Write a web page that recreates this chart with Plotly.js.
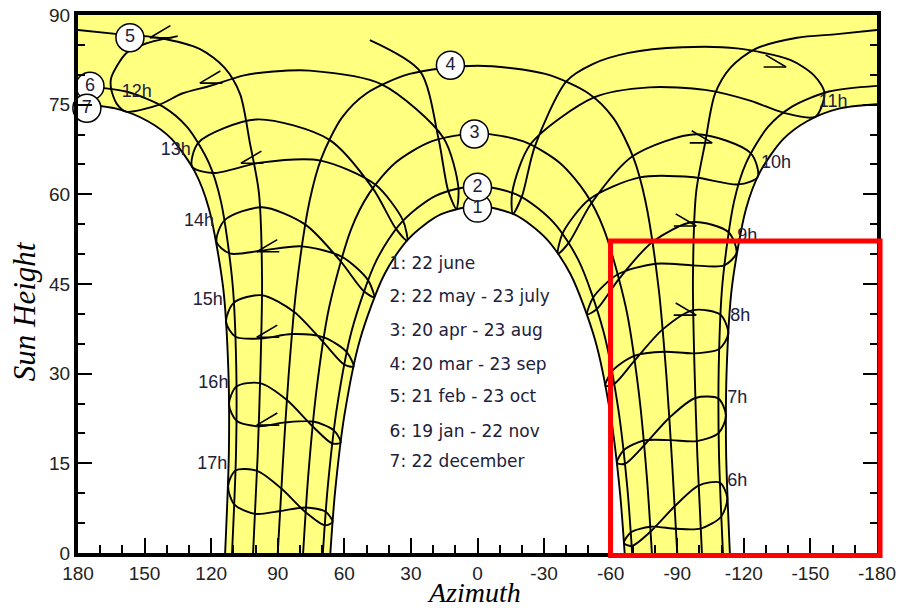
<!DOCTYPE html>
<html><head><meta charset="utf-8">
<script src="https://cdn.plot.ly/plotly-3.0.1.min.js"></script>
<style>html,body{margin:0;padding:0;background:#fff}#chart{width:900px;height:608px}</style>
</head><body><div id="chart"></div>
<script>
// ===== Sun paths (date curves): azimuth (deg), sun height (deg) =====
const path1Az = [-66.30,-64.19,-59.87,-52.98,-41.92,-31.07,-16.83,0,16.83,31.07,41.92,52.98,59.87,64.19,66.30];
const path1H  = [0,10.14,23.26,35.65,46.64,52.55,56.59,58.06,56.59,52.55,46.64,35.65,23.26,10.14,0];
const path2Az = [-69.67,-67.50,-63.29,-56.59,-45.59,-34.33,-18.87,0,18.87,34.33,45.59,56.59,63.29,67.50,69.67];
const path2H  = [0,10.93,24.43,37.30,48.90,55.28,59.76,61.40,59.76,55.28,48.90,37.30,24.43,10.93,0];
const path3Az = [-78.57,-76.28,-72.59,-66.86,-56.92,-48.87,-37.24,-20.74,0,20.74,37.24,48.87,56.92,66.86,72.59,76.28,78.57];
const path3H  = [0,12.83,27.13,41.06,54.19,60.12,65.21,68.85,70.2,68.85,65.21,60.12,54.19,41.06,27.13,12.83,0];
const path4Az = [-90,-87.73,-85.12,-81.59,-75.63,-70.36,-61.17,-50.07,-30.56,0,30.56,50.07,61.17,70.36,75.63,81.59,85.12,87.73,90];
const path4H  = [0,14.83,29.64,44.37,58.93,66.03,72.79,76.88,80.14,81.5,80.14,76.88,72.79,66.03,58.93,44.37,29.64,14.83,0];
// curves passing south of the zenith: morning half (east) and afternoon half (west)
const path5AmAz = [-101.12,-99.06,-97.78,-97.07,-98.5,-102.5,-107.0,-114.0,-125.0,-144.0,-162.0,-180];
const path5AmH  = [0,16.23,30.91,45.62,60.3,68.5,76.8,81.2,84.3,86.2,86.8,87.5];
const path5PmAz = [180,162.0,144.0,125.0,114.0,107.0,102.5,98.5,97.07,97.78,99.06,101.12];
const path5PmH  = [87.5,86.8,86.2,84.3,81.2,76.8,68.5,60.3,45.62,30.91,16.23,0];
const path6AmAz = [-110.59,-108.79,-108.69,-110.35,-115.53,-121.04,-130.88,-141.9,-158.3,-180];
const path6AmH  = [0,16.94,31.0,45.0,58.70,65.25,71.27,74.71,77.20,78.15];
const path6PmAz = [180,158.3,141.9,130.88,121.04,115.53,110.35,108.69,108.79,110.59];
const path6PmH  = [78.15,77.20,74.71,71.27,65.25,58.70,45.0,31.0,16.94,0];
const path7AmAz = [-113.71,-112.01,-112.28,-114.63,-121.03,-127.37,-137.85,-148.5,-162.8,-180];
const path7AmH  = [0,17.08,30.83,44.46,57.63,63.80,69.27,72.23,74.33,75.06];
const path7PmAz = [180,162.8,148.5,137.85,127.37,121.03,114.63,112.28,112.01,113.71];
const path7PmH  = [75.06,74.33,72.23,69.27,63.80,57.63,44.46,30.83,17.08,0];

// ===== Hour lines (legal time analemmas) =====
const h6Az  = [-89.39,-77.87,-69.08,-66.00,-69.48,-78.00,-88.83,-99.61,-109.15,-112.53,-109.74,-100.53,-89.39];
const h6H   = [4.05,4.39,3.44,1.66,1.17,3.60,7.81,11.28,11.77,9.23,6.06,4.09,4.05];
const h7Az  = [-87.07,-74.92,-65.81,-62.83,-66.45,-75.11,-86.43,-98.16,-108.56,-111.93,-108.65,-98.80,-87.07];
const h7H   = [18.88,18.82,17.15,15.05,14.93,18.03,22.63,25.93,25.82,22.97,20.08,18.72,18.88];
const h8Az  = [-84.29,-70.53,-60.62,-57.68,-61.64,-70.83,-83.44,-97.24,-109.47,-112.97,-108.87,-97.62,-84.29];
const h8H   = [33.67,32.99,30.41,27.96,28.29,32.22,37.41,40.64,39.86,36.70,34.14,33.40,33.67];
const h9Az  = [-80.31,-63.44,-52.26,-49.49,-53.92,-63.94,-78.94,-97.07,-112.99,-116.67,-111.10,-97.03,-80.31];
const h9H   = [48.38,46.67,42.82,39.94,40.87,45.94,52.08,55.36,53.71,50.20,48.10,48.12,48.38];
const h10Az = [-73.07,-50.42,-38.29,-36.30,-41.10,-51.39,-70.00,-98.85,-123.08,-126.26,-117.63,-97.55,-73.07];
const h10H  = [62.84,59.18,53.44,50.11,51.89,58.54,66.40,70.06,66.90,62.93,61.66,62.85,62.84];
const h11Az = [-52.50,-23.88,-15.63,-15.94,-19.93,-25.84,-40.13,-51.9,-68.1,-92.5,-116.95,-140.9,-151.5,-156.31,-152.18,-137.75,-122.8,-102.53,-77.4,-52.50];
const h11H  = [76.21,68.37,60.29,56.75,59.56,68.03,78.94,81.8,83.67,84.6,84.41,82.48,79.94,77.0,72.96,73.66,75.68,77.48,77.9,76.21];
const h12Az = [48.5,25.84,17.54,13.22,9.53,8.60,15.38,43.19,75.6,91.9,105.15,120.3,133.1,143.30,158.41,162.6,165.1,165.0,158.2,149.4,135.08];
const h12H  = [85.8,80.57,69.25,60.62,57.60,61.07,69.47,78.41,80.7,80.55,79.91,78.16,76.87,75.01,73.84,75.18,77.71,79.53,83.64,85.23,86.46];
const h13Az = [66.88,47.22,36.71,31.75,33.53,46.07,70.72,97.86,119.28,128.57,125.74,99.66,66.88];
const h13H  = [69.16,61.03,54.21,52.27,55.61,61.63,65.65,65.30,63.56,64.62,68.67,72.53,69.16];
const h14Az = [77.69,61.82,51.31,46.64,49.42,61.24,79.25,97.01,111.68,117.56,113.88,97.17,77.69];
const h14H  = [54.98,48.86,43.82,42.81,45.69,49.58,51.30,50.60,50.11,52.09,55.69,57.84,54.98];
const h15Az = [82.70,69.59,60.04,55.91,58.90,69.26,83.62,97.47,109.04,113.30,109.77,97.14,82.70];
const h15H  = [40.36,35.32,31.53,31.18,33.62,36.08,36.63,35.88,36.17,38.65,41.89,43.12,40.36];
const h16Az = [85.89,74.31,65.45,61.71,64.73,74.10,86.57,98.57,108.59,111.97,108.59,97.96,85.89];
const h16H  = [25.60,21.20,18.32,18.47,20.52,21.99,21.85,21.19,22.12,24.94,27.86,28.41,25.60];
const h17Az = [88.37,77.44,68.85,65.33,68.40,77.30,88.95,100.20,109.51,112.36,108.99,99.33,88.37];
const h17H  = [10.78,6.81,4.64,5.17,6.90,7.61,7.02,6.55,8.09,11.19,13.81,13.74,10.78];

// ===== Direction arrows on the sun paths (tip position, +1 = pointing west/left, -1 = pointing east/right) =====
const arrowAz  = [147.6,125.1,106.6,99.45,99.45,99.45,-139.05,-105.75,-98.55,-98.55];
const arrowH   = [86.2,78.6,65.2,50.4,36.1,21.4,81.3,68.6,54.7,39.8];
const arrowDir = [1,1,1,1,1,1,-1,-1,-1,-1];

// ===== Labels =====
const hourLabels   = ['12h','13h','14h','15h','16h','17h','6h','7h','8h','9h','10h','11h'];
const hourLabelAz  = [153.5,135.9,125.5,121.5,119.0,119.5,-117.0,-117.0,-118.4,-121.5,-134.5,-160.2];
const hourLabelH   = [77.0,67.4,55.5,42.3,28.4,14.8,11.9,25.8,39.5,53.0,65.2,75.3];
const circleLabels = ['1','2','3','4','5','6','7'];
const circleAz     = [0,0,1.4,12.2,156.6,174.6,176.0];
const circleH      = [57.7,61.2,70.1,81.6,86.2,78.1,74.4];
const legendLines  = ['1: 22 june','2: 22 may - 23 july','3: 20 apr - 23 aug','4: 20 mar - 23 sep','5: 21 feb - 23 oct','6: 19 jan - 22 nov','7: 22 december'];
const legendAz     = [39.6,39.6,39.6,39.6,39.6,39.6,39.6];
const legendH      = [48.2,42.7,37.0,31.3,25.9,20.2,15.1];
const xTickVals = [180,150,120,90,60,30,0,-30,-60,-90,-120,-150,-180];
const xTickText = ['180','150','120','90','60','30','0','-30','-60','-90','-120','-150','-180'];
const yTickVals = [0,15,30,45,60,75,90];
const yTickText = ['0','15','30','45','60','75','90'];

// ===== Build traces =====
const LINE = {color:'#000', width:1.9, shape:'spline', smoothing:0.8};
const traces = [];
function line(x, y, extra){
  traces.push(Object.assign({type:'scatter', mode:'lines', x:x, y:y, line:LINE,
    hoverinfo:'skip', showlegend:false}, extra||{}));
}
// white (night) regions under the 22 June and 22 December paths
line(path1Az, path1H, {fill:'tozeroy', fillcolor:'#ffffff'});
line(path7AmAz, path7AmH, {fill:'tozeroy', fillcolor:'#ffffff'});
line(path7PmAz, path7PmH, {fill:'tozeroy', fillcolor:'#ffffff'});
// other date curves
[[path2Az,path2H],[path3Az,path3H],[path4Az,path4H],
 [path5AmAz,path5AmH],[path5PmAz,path5PmH],[path6AmAz,path6AmH],[path6PmAz,path6PmH]]
 .forEach(p => line(p[0], p[1]));
// hour lines
[[h6Az,h6H],[h7Az,h7H],[h8Az,h8H],[h9Az,h9H],[h10Az,h10H],[h11Az,h11H],[h12Az,h12H],
 [h13Az,h13H],[h14Az,h14H],[h15Az,h15H],[h16Az,h16H],[h17Az,h17H]]
 .forEach(p => line(p[0], p[1]));

const TXT = '#20203a';
traces.push({type:'scatter', mode:'text', x:hourLabelAz, y:hourLabelH, text:hourLabels,
  textposition:'middle center', textfont:{family:'Liberation Sans, Arial, sans-serif', size:18, color:TXT},
  hoverinfo:'skip', showlegend:false, cliponaxis:false});
traces.push({type:'scatter', mode:'markers+text', x:circleAz, y:circleH, text:circleLabels,
  textposition:'middle center',
  marker:{size:28, color:'#ffffff', line:{color:'#000', width:1.5}},
  textfont:{family:'Liberation Sans, Arial, sans-serif', size:18, color:TXT},
  hoverinfo:'skip', showlegend:false, cliponaxis:false});
traces.push({type:'scatter', mode:'text', x:legendAz, y:legendH, text:legendLines,
  textposition:'middle right', textfont:{family:'DejaVu Sans, sans-serif', size:17, color:TXT},
  hoverinfo:'skip', showlegend:false});

// arrowheads drawn as two short strokes ending at the tip
const annotations = [];
arrowAz.forEach((az, i) => {
  const d = arrowDir[i];
  [[22*d,-13],[24*d,0]].forEach(o => annotations.push({
    x:az, y:arrowH[i], xref:'x', yref:'y', text:'', showarrow:true, arrowhead:0,
    arrowwidth:1.6, arrowcolor:'#000', ax:o[0], ay:o[1], standoff:0, startstandoff:0,
    font:{size:1}
  }));
});
annotations.push(
  {text:'Sun Height', xref:'paper', yref:'paper', x:-0.066, y:0.45, textangle:-90,
   showarrow:false, xanchor:'center', yanchor:'middle',
   font:{family:'Liberation Serif, Times New Roman, serif', size:31, color:'#000', style:'italic'}},
  {text:'Azimuth', xref:'paper', yref:'paper', x:0.4956, y:-0.0725,
   showarrow:false, xanchor:'center', yanchor:'middle', borderpad:0,
   font:{family:'Liberation Serif, Times New Roman, serif', size:28, color:'#000', style:'italic'}}
);

const tickFont = {family:'Liberation Sans, Arial, sans-serif', size:19, color:'#222'};
const layout = {
  width:900, height:608,
  margin:{l:78, r:23, t:15, b:55, pad:0},
  paper_bgcolor:'#ffffff', plot_bgcolor:'#ffff80',
  showlegend:false,
  xaxis:{range:[180,-180], tickmode:'array', tickvals:xTickVals, ticktext:xTickText,
    ticks:'inside', ticklen:15, tickwidth:2, tickcolor:'#000',
    showline:true, linewidth:4, linecolor:'#000', mirror:true,
    showgrid:false, zeroline:false, tickfont:tickFont, automargin:false,
    minor:{tickmode:'linear', tick0:0, dtick:10, ticks:'inside', ticklen:8, tickwidth:2, tickcolor:'#000', showgrid:false}},
  yaxis:{range:[0,90], tickmode:'array', tickvals:yTickVals, ticktext:yTickText,
    ticks:'inside', ticklen:14, tickwidth:2, tickcolor:'#000',
    showline:true, linewidth:4, linecolor:'#000', mirror:'ticks',
    showgrid:false, zeroline:false, tickfont:tickFont, automargin:false,
    minor:{tickmode:'linear', tick0:0, dtick:5, ticks:'inside', ticklen:7, tickwidth:2, tickcolor:'#000', showgrid:false}},
  annotations:annotations,
  shapes:[
    {type:'rect', xref:'paper', yref:'paper', x0:0.6665, x1:1.0038, y0:-0.0046, y1:0.5799,
     line:{color:'#ff0000', width:5}, fillcolor:'rgba(0,0,0,0)', layer:'above'}
  ]
};
Plotly.newPlot('chart', traces, layout, {staticPlot:true, displayModeBar:false});
</script></body></html>
